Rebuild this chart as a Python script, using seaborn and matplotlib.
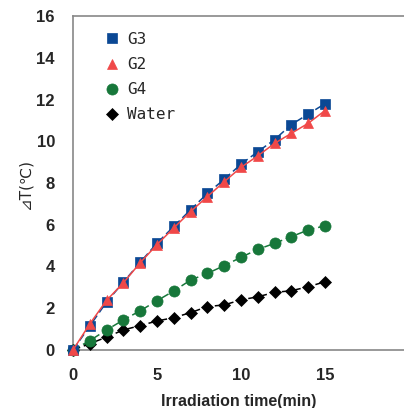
import matplotlib
matplotlib.use("Agg")
import matplotlib.pyplot as plt
import seaborn as sns
import pandas as pd

time_min = list(range(16))
g3 = [0, 1.15, 2.3, 3.25, 4.2, 5.12, 5.92, 6.72, 7.5, 8.18, 8.9, 9.5, 10.08, 10.8, 11.3, 11.8]
g2 = [0, 1.25, 2.38, 3.22, 4.18, 5.05, 5.85, 6.63, 7.35, 8.06, 8.75, 9.3, 9.9, 10.38, 10.86, 11.47]
g4 = [0, 0.45, 0.96, 1.44, 1.88, 2.36, 2.83, 3.35, 3.67, 4.04, 4.44, 4.82, 5.11, 5.43, 5.75, 5.95]
water = [0, 0.3, 0.62, 0.96, 1.17, 1.39, 1.55, 1.79, 2.08, 2.16, 2.4, 2.55, 2.76, 2.84, 3.03, 3.27]

series_names = ["G3", "G2", "G4", "Water"]
series_vals = [g3, g2, g4, water]
colors = {"G3": "#0b4894", "G2": "#f04848", "G4": "#17773a", "Water": "#000000"}
markers = {"G3": "s", "G2": "^", "G4": "o", "Water": "D"}
msizes = {"G3": 7, "G2": 7.5, "G4": 8, "Water": 6}
lstyles = {"G3": (0, (5, 2.5)), "G2": "-", "G4": (0, (5, 2.5)), "Water": (0, (5, 2.5))}

sns.set_style("white")
plt.rcParams['font.family'] = ['Liberation Sans', 'DejaVu Sans']

fig = plt.figure(figsize=(4.04, 4.08), dpi=100)
W, H = 404, 408
ax = fig.add_axes([73 / W, (H - 350) / H, (404 - 73) / W, (350 - 16) / H])

draw_order = ["Water", "G4", "G3", "G2"]
for name in draw_order:
    vals = series_vals[series_names.index(name)]
    df = pd.DataFrame({"t": time_min, "v": vals})
    sns.lineplot(data=df, x="t", y="v", ax=ax, color=colors[name],
                 linestyle=lstyles[name], linewidth=1.1, marker=markers[name],
                 markersize=msizes[name], markerfacecolor=colors[name],
                 markeredgecolor=colors[name], markeredgewidth=0.5,
                 label=name, clip_on=False, zorder=3)

ax.set_xlim(0, (404 - 73) / 16.8)
ax.set_ylim(0, 16)
ax.set_xticks([0, 5, 10, 15])
ax.set_yticks(range(0, 17, 2))
for lab in ax.get_xticklabels() + ax.get_yticklabels():
    lab.set_fontweight("bold")
    lab.set_fontsize(12)
ax.tick_params(axis="x", direction="in", length=4, width=1, color="#777777", pad=13)
ax.tick_params(axis="y", direction="out", length=4, width=1, color="#777777", pad=9)
for s in ["left", "bottom", "top"]:
    ax.spines[s].set_color("#888888")
    ax.spines[s].set_linewidth(1.2)
    ax.spines[s].set_visible(True)
ax.spines["right"].set_visible(False)

ax.set_xlabel("Irradiation time(min)", fontsize=11.5, fontweight="bold", labelpad=8)
ax.set_ylabel("⊿T(℃)", fontsize=11, family=["DejaVu Sans"], labelpad=3)

handles, labels = ax.get_legend_handles_labels()
hmap = dict(zip(labels, handles))
leg = ax.legend([hmap[n] for n in series_names], series_names, loc="upper left",
                bbox_to_anchor=(0.055, 0.995), frameon=False, handlelength=0.8,
                handletextpad=0.55, labelspacing=0.63,
                prop={"family": "DejaVu Sans Mono", "size": 11.5})
for h in leg.legend_handles:
    h.set_linestyle("none")

fig.savefig("out.png", dpi=100)
